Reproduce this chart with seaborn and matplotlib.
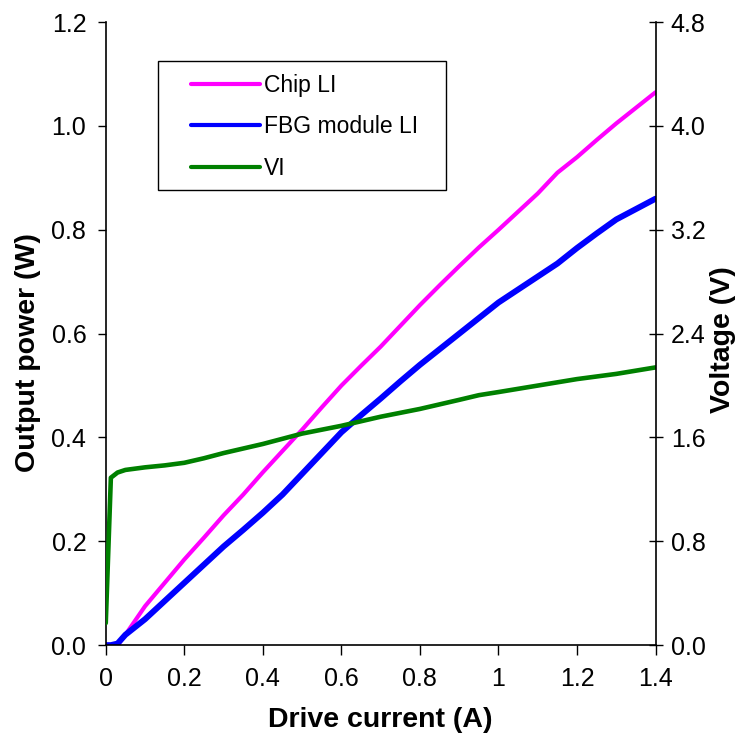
import numpy as np
import pandas as pd
import matplotlib
import matplotlib.pyplot as plt
from matplotlib.patches import Rectangle
import seaborn as sns

matplotlib.use('Agg')

sns.set_theme(style="white")
plt.rcParams['font.family'] = ['Liberation Sans', 'DejaVu Sans']
plt.rcParams['text.color'] = 'black'
plt.rcParams['axes.labelcolor'] = 'black'
plt.rcParams['xtick.color'] = 'black'
plt.rcParams['ytick.color'] = 'black'

# drive current (A) and readings taken off the chart
current = [0.0, 0.013, 0.03, 0.05, 0.1, 0.15, 0.2, 0.25, 0.3, 0.35, 0.4, 0.45, 0.5,
           0.55, 0.6, 0.65, 0.7, 0.75, 0.8, 0.85, 0.9, 0.95, 1.0, 1.05, 1.1,
           1.15, 1.2, 1.25, 1.3, 1.35, 1.4]
chip_li = [0.0, 0.0, 0.0, 0.02, 0.075, 0.12, 0.165, 0.207, 0.25, 0.29, 0.333, 0.374, 0.415,
           0.458, 0.50, 0.538, 0.575, 0.615, 0.655, 0.693, 0.73, 0.766, 0.80, 0.835, 0.87,
           0.91, 0.94, 0.973, 1.005, 1.035, 1.065]
fbg_li = [0.0, 0.0, 0.003, 0.02, 0.05, 0.085, 0.12, 0.155, 0.19, 0.222, 0.255, 0.29, 0.33,
          0.37, 0.41, 0.443, 0.475, 0.508, 0.54, 0.57, 0.60, 0.63, 0.66, 0.685, 0.71,
          0.735, 0.765, 0.793, 0.82, 0.84, 0.86]
vi = [0.17, 1.29, 1.33, 1.35, 1.37, 1.385, 1.405, 1.44, 1.48, 1.515, 1.55, 1.59, 1.63,
      1.66, 1.69, 1.725, 1.76, 1.79, 1.82, 1.855, 1.89, 1.926, 1.95, 1.975, 2.0,
      2.025, 2.05, 2.07, 2.09, 2.115, 2.14]

df = pd.DataFrame({"current": current, "chip": chip_li, "fbg": fbg_li, "vi": vi})

fig = plt.figure(figsize=(7.37, 7.39), dpi=100)
ax = fig.add_axes([0.1435, 0.127, 0.746, 0.843])
ax2 = ax.twinx()

sns.lineplot(data=df, x="current", y="chip", color="#ff00ff", lw=3, ax=ax, label="Chip LI")
sns.lineplot(data=df, x="current", y="fbg", color="#0000ff", lw=4.3, ax=ax, label="FBG module LI")
sns.lineplot(data=df, x="current", y="vi", color="#008000", lw=3.3, ax=ax2, label="VI")

ax.set_xlim(0, 1.4)
ax.set_ylim(0, 1.2)
ax2.set_ylim(0, 4.8)
ax.set_xticks([0, 0.2, 0.4, 0.6, 0.8, 1.0, 1.2, 1.4])
ax.set_xticklabels(["0", "0.2", "0.4", "0.6", "0.8", "1", "1.2", "1.4"])
yt = np.arange(0, 1.21, 0.2)
ax.set_yticks(yt)
ax.set_yticklabels([f"{v:.1f}" for v in yt])
vt = np.arange(0, 4.81, 0.8)
ax2.set_yticks(vt)
ax2.set_yticklabels([f"{v:.1f}" for v in vt])

ax.set_xlabel("Drive current (A)", fontsize=20.5, fontweight="bold")
ax.set_ylabel("Output power (W)", fontsize=20.5, fontweight="bold")
ax2.set_ylabel("Voltage (V)", fontsize=20.5, fontweight="bold", rotation=90)
ax.xaxis.set_label_coords(0.5, -0.12)
ax.yaxis.set_label_coords(-0.142, 0.469)
ax2.yaxis.set_label_coords(1.122, 0.49)
ax.xaxis.label.set_va("center")
ax.yaxis.label.set_va("center")
ax2.yaxis.label.set_va("center")

ax.tick_params(axis="x", direction="out", length=7, width=1, labelsize=18, pad=9, bottom=True)
ax.tick_params(axis="y", direction="out", length=6, width=1, labelsize=18, pad=8, left=True)
ax2.tick_params(axis="y", direction="inout", length=10, width=1, labelsize=18, pad=6, right=True)
for a in (ax, ax2):
    for sp in a.spines.values():
        sp.set_visible(False)
ax.spines["left"].set_visible(True)
ax.spines["bottom"].set_visible(True)
ax2.spines["right"].set_visible(True)
for sp in ("left", "bottom"):
    ax.spines[sp].set_color("black")
    ax.spines[sp].set_linewidth(1.2)
ax2.spines["right"].set_color("black")
ax2.spines["right"].set_linewidth(1.2)

# legend box
ax2.add_patch(Rectangle((0.0945, 0.731), 0.525, 0.207, transform=ax2.transAxes,
                        fill=True, facecolor="white", edgecolor="black", lw=1, zorder=5))
h1, l1 = ax.get_legend_handles_labels()
h2, l2 = ax2.get_legend_handles_labels()
ax.get_legend().remove()
ax2.get_legend().remove()
leg = ax2.legend(h1 + h2, l1 + l2, loc="upper left", bbox_to_anchor=(0.155, 0.917),
                 fontsize=16.5, frameon=False, handlelength=3.0, handletextpad=0.2,
                 labelspacing=0.8, borderpad=0, borderaxespad=0)
leg.set_zorder(6)
for line in leg.get_lines():
    line.set_linewidth(3)
    line.set_solid_capstyle("round")

fig.savefig("out.png", dpi=100)
